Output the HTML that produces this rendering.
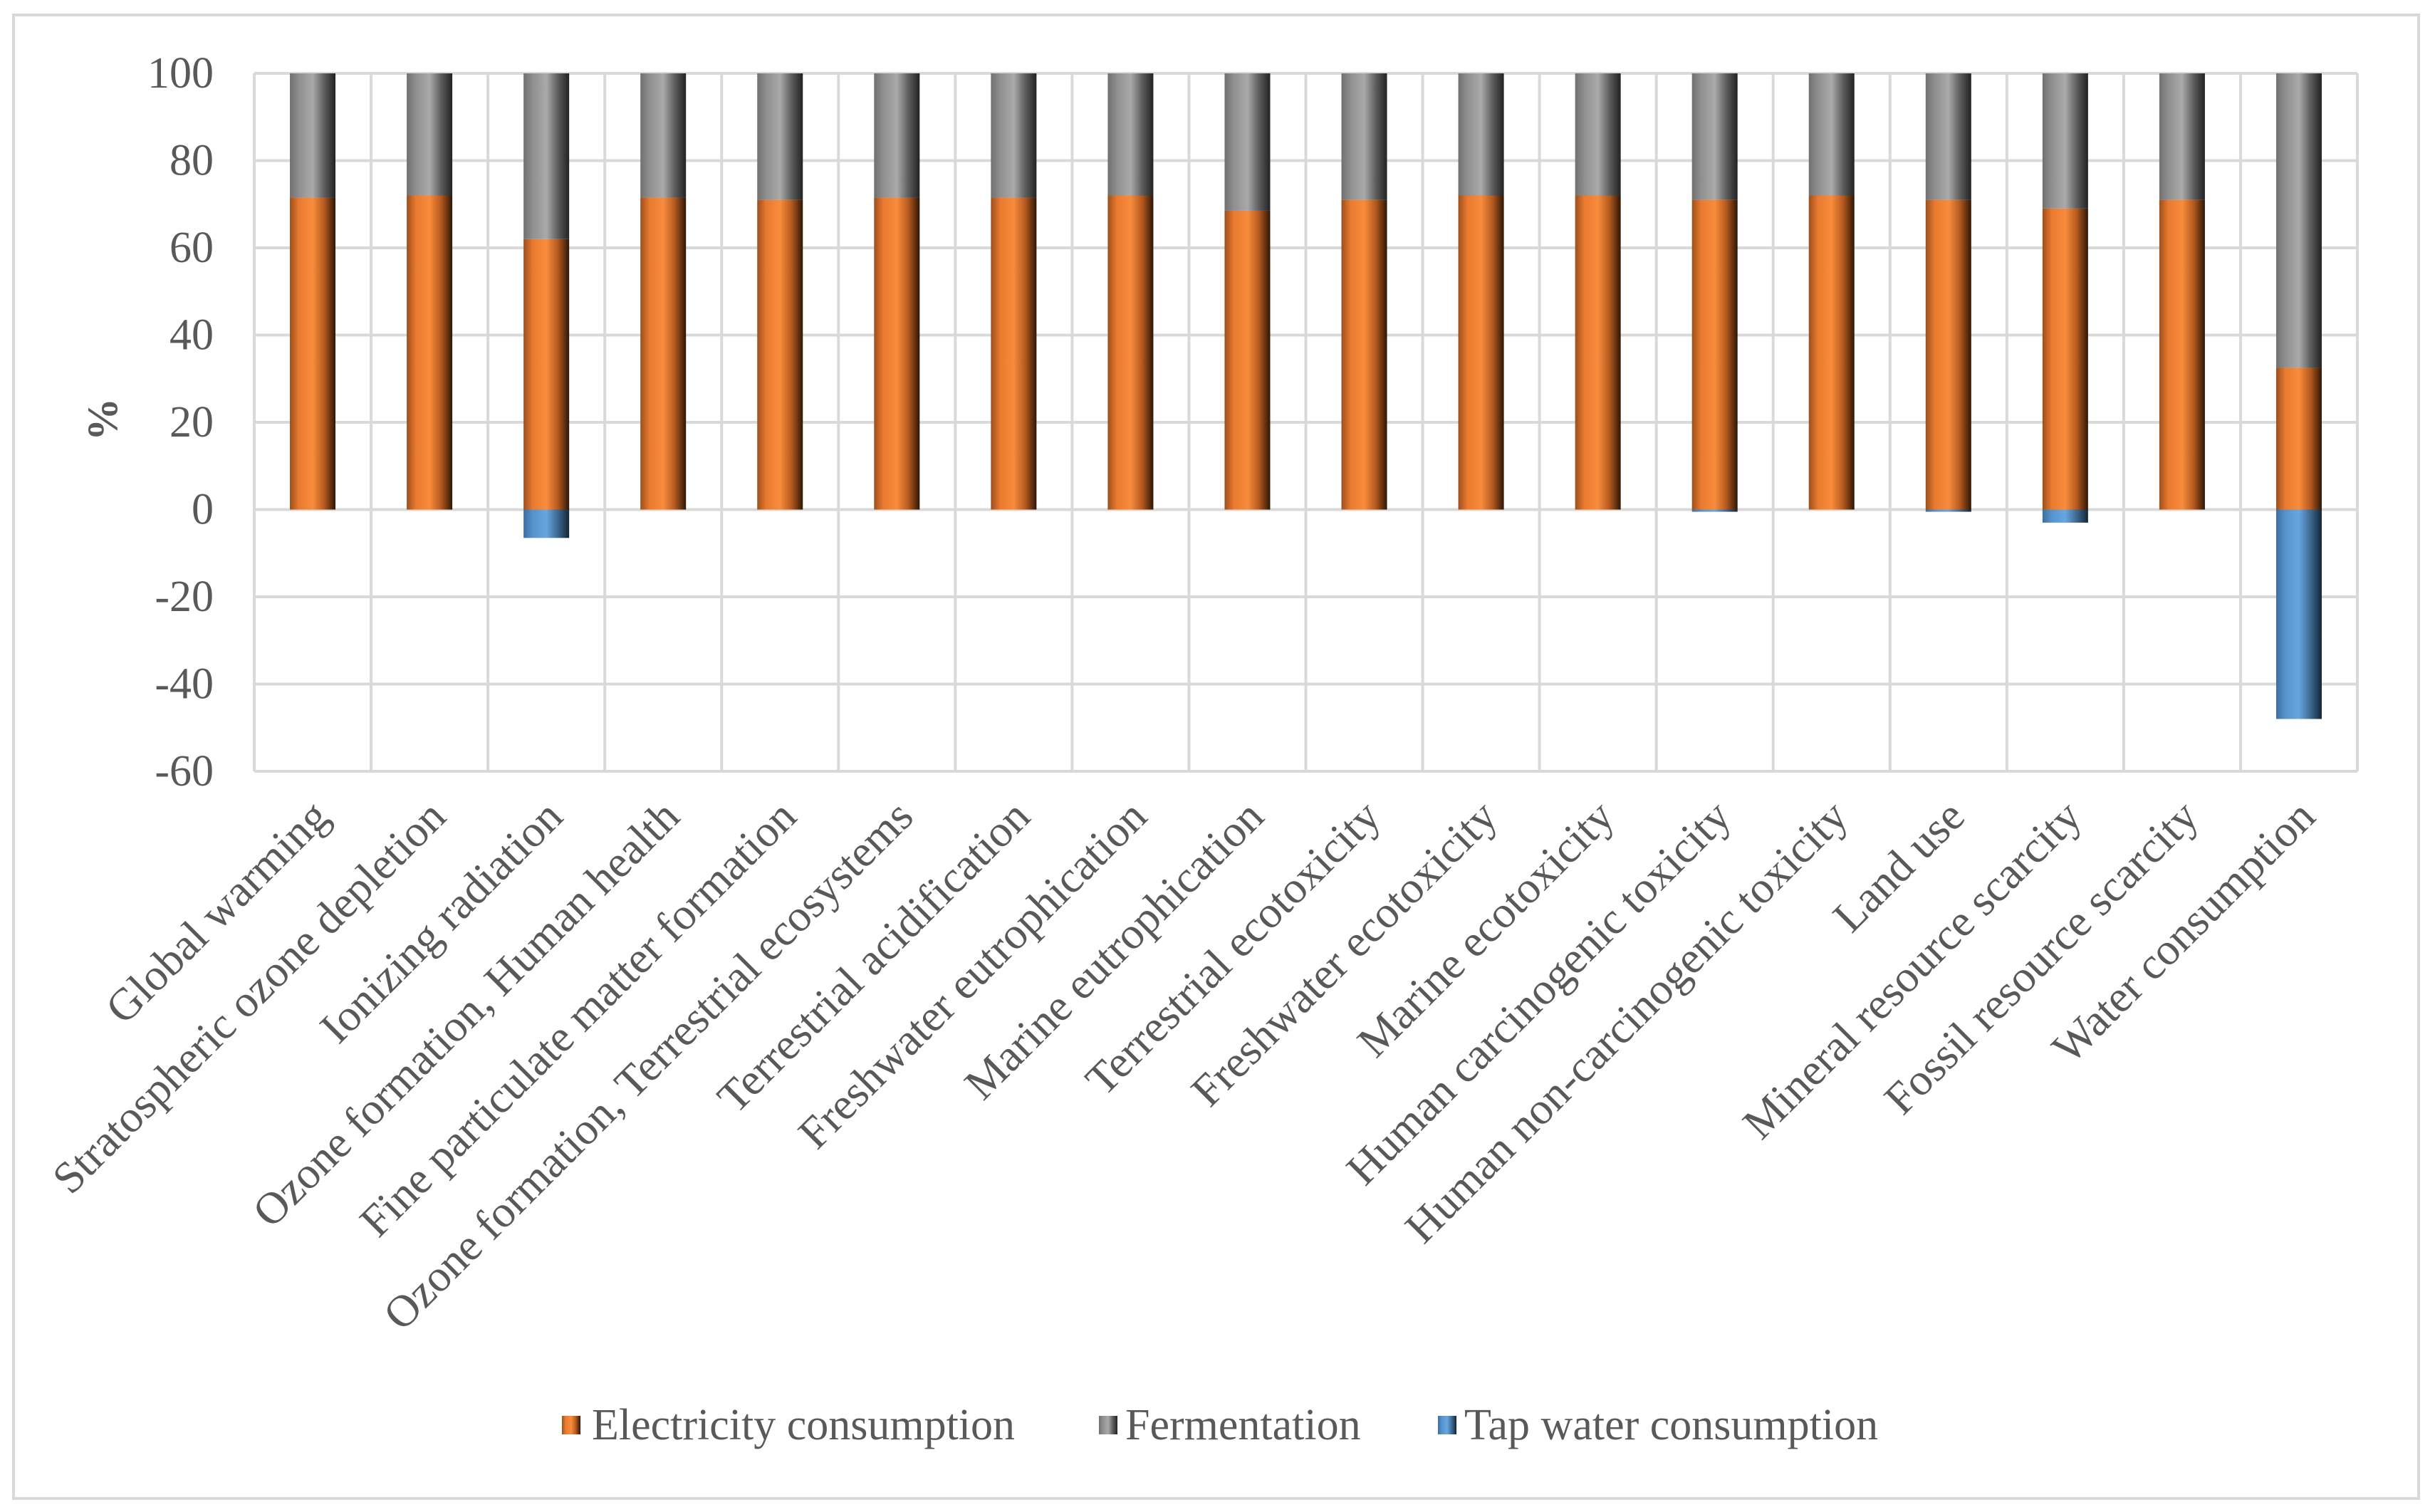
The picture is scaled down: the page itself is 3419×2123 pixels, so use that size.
<!DOCTYPE html>
<html><head><meta charset="utf-8"><style>
html,body{margin:0;padding:0;background:#fff;}
svg{display:block;font-family:"Liberation Serif",serif;}
</style></head><body>
<svg id="chart" width="3419" height="2123" viewBox="0 0 3419 2123" xmlns="http://www.w3.org/2000/svg">
<defs>
<linearGradient id="gO" x1="0" x2="1" y1="0" y2="0"><stop offset="0" stop-color="#9c4f1d"/><stop offset="0.2" stop-color="#e97a30"/><stop offset="0.5" stop-color="#f88c3c"/><stop offset="0.75" stop-color="#b65a1f"/><stop offset="1" stop-color="#2e1605"/></linearGradient>
<linearGradient id="gG" x1="0" x2="1" y1="0" y2="0"><stop offset="0" stop-color="#707070"/><stop offset="0.2" stop-color="#8f8f8f"/><stop offset="0.5" stop-color="#aaaaaa"/><stop offset="0.75" stop-color="#5e5e5e"/><stop offset="1" stop-color="#222"/></linearGradient>
<linearGradient id="gB" x1="0" x2="1" y1="0" y2="0"><stop offset="0" stop-color="#3c6f9e"/><stop offset="0.2" stop-color="#5593cc"/><stop offset="0.5" stop-color="#67a6e0"/><stop offset="0.75" stop-color="#3d6990"/><stop offset="1" stop-color="#132536"/></linearGradient>
</defs>
<rect x="19" y="21" width="3377" height="2083" fill="#fff" stroke="#d9d9d9" stroke-width="4"/>
<g id="grid"></g><g id="bars"></g><g id="labels"></g>
<text x="150" y="589" transform="rotate(-90 150 589)" text-anchor="middle" font-size="60" font-weight="bold" fill="#595959" dominant-baseline="middle">%</text>
<g>
<g><rect x="789" y="1988" width="26" height="26" fill="url(#gO)"/><text x="831" y="2021" font-size="62" fill="#595959">Electricity consumption</text></g>
<g><rect x="1543" y="1988" width="26" height="26" fill="url(#gG)"/><text x="1580" y="2021" font-size="62" fill="#595959">Fermentation</text></g>
<g><rect x="2019" y="1988" width="26" height="26" fill="url(#gB)"/><text x="2056" y="2021" font-size="62" fill="#595959">Tap water consumption</text></g>
</g>
</svg>
<script>
const categories=["Global warming","Stratospheric ozone depletion","Ionizing radiation","Ozone formation, Human health","Fine particulate matter formation","Ozone formation, Terrestrial ecosystems","Terrestrial acidification","Freshwater eutrophication","Marine eutrophication","Terrestrial ecotoxicity","Freshwater ecotoxicity","Marine ecotoxicity","Human carcinogenic toxicity","Human non-carcinogenic toxicity","Land use","Mineral resource scarcity","Fossil resource scarcity","Water consumption"];
const electricity=[71.5,72,62,71.5,71,71.5,71.5,72,68.5,71,72,72,71,72,71,69,71,32.5];
const fermentation=[28.5,28,38,28.5,29,28.5,28.5,28,31.5,29,28,28,29,28,29,31,29,67.5];
const tapWater=[0,0,-6.5,0,0,0,0,0,0,0,0,0,-0.5,0,-0.5,-3,0,-48];
const yTicks=[100,80,60,40,20,0,-20,-40,-60];
const NS="http://www.w3.org/2000/svg";
const L=357,R=3310,T=103,B=1083,yMin=-60,yMax=100;
const y=v=>T+(yMax-v)/(yMax-yMin)*(B-T);
const bw=(R-L)/categories.length;
const xc=i=>L+bw*(i+0.5);
const barW=64;
function mk(tag,attrs,parent){const e=document.createElementNS(NS,tag);for(const k in attrs)e.setAttribute(k,attrs[k]);parent.appendChild(e);return e;}
const grid=document.getElementById('grid'),bars=document.getElementById('bars'),labels=document.getElementById('labels');
yTicks.forEach(t=>{
 const l=mk('line',{x1:L,x2:R,y1:y(t),y2:y(t),stroke:'#d9d9d9','stroke-width':4},grid);
 
 
 const tx=mk('text',{x:300,y:y(t)+20,'text-anchor':'end','font-size':62,fill:'#595959'},labels);
 tx.textContent=t;
 
 
});
for(let i=0;i<=categories.length;i++){
 const l=mk('line',{x1:L+bw*i,x2:L+bw*i,y1:T,y2:B,stroke:'#d9d9d9','stroke-width':4},grid);
 
 
}
function seg(i,v0,v1,fill,name){
 if(v0===v1)return;
 const top=Math.min(y(v0),y(v1)),h=Math.abs(y(v1)-y(v0));
 const r=mk('rect',{x:xc(i)-barW/2,y:top,width:barW,height:h,fill:fill},bars);
 
 
}
categories.forEach((c,i)=>{
 seg(i,0,electricity[i],'url(#gO)','bar-electricity');
 seg(i,electricity[i],electricity[i]+fermentation[i],'url(#gG)','bar-fermentation');
 seg(i,0,tapWater[i],'url(#gB)','bar-tap-water');
 const ax=xc(i)+26,ay=1150;
 const tx=mk('text',{x:ax,y:ay,'text-anchor':'end','font-size':63,fill:'#595959',transform:`rotate(-45 ${ax} ${ay})`},labels);
 tx.textContent=c;
 
 
});
</script>
</body></html>
